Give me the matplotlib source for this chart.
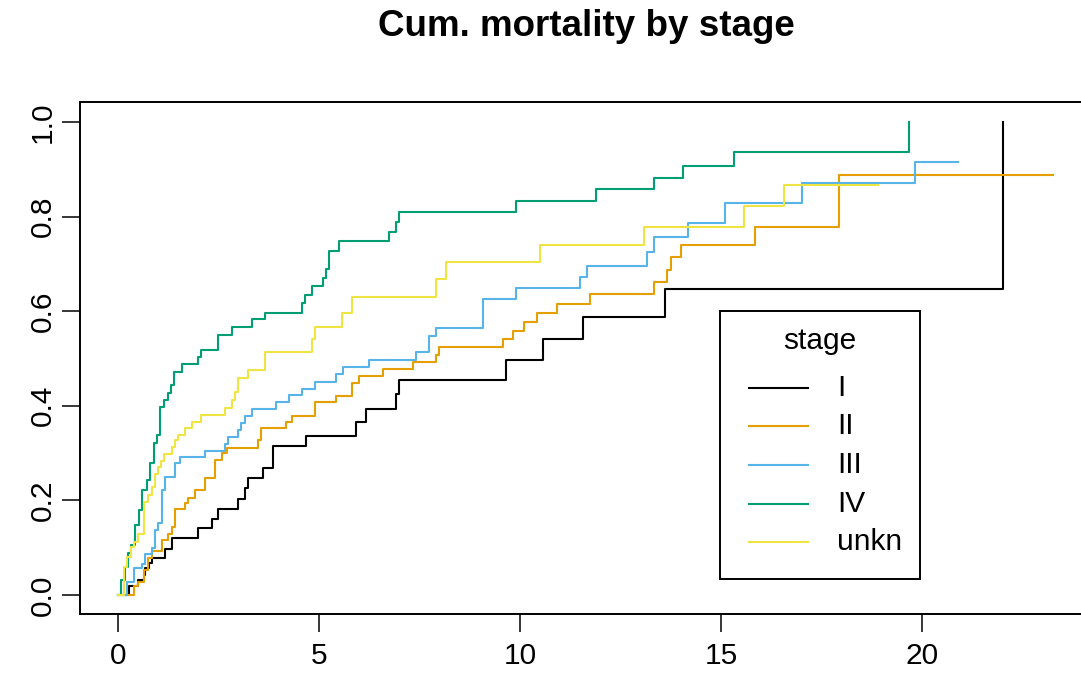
import matplotlib.pyplot as plt
from matplotlib.patches import Rectangle
from matplotlib.lines import Line2D

plt.rcParams["font.family"] = ["Liberation Sans", "DejaVu Sans"]

# 分期与配色
stages = ["I", "II", "III", "IV", "unkn"]
colors = ["#000000", "#E69F00", "#56B4E9", "#009E73", "#F0E442"]

# 各分期累计死亡率阶梯（跳跃时间, 跳跃后的累计值）
t_I = [0.25, 0.49, 0.63, 0.67, 0.75, 0.83, 1.16, 1.33, 1.99, 2.32, 2.47, 2.98,
       3.15, 3.23, 3.59, 3.84, 4.66, 5.91, 6.16, 6.91, 6.99, 9.64, 10.56, 11.57,
       13.59, 22.0]
cif_I = [0.019, 0.032, 0.042, 0.056, 0.067, 0.078, 0.097, 0.12, 0.141, 0.161,
         0.181, 0.203, 0.226, 0.247, 0.269, 0.314, 0.336, 0.366, 0.394, 0.425,
         0.455, 0.497, 0.542, 0.588, 0.647, 1.0]

t_II = [0.39, 0.49, 0.64, 0.73, 0.83, 1.07, 1.24, 1.32, 1.41, 1.65, 1.74, 1.90,
        2.15, 2.40, 2.57, 2.71, 3.47, 3.55, 4.16, 4.32, 4.90, 5.41, 5.82, 5.99,
        6.58, 7.33, 7.90, 7.97, 9.57, 9.82, 10.08, 10.41, 10.91, 11.74, 13.32,
        13.65, 13.74, 13.99, 15.83, 17.92]
cif_II = [0.018, 0.027, 0.053, 0.078, 0.092, 0.116, 0.129, 0.144, 0.181, 0.194,
          0.206, 0.222, 0.247, 0.285, 0.300, 0.311, 0.327, 0.352, 0.366, 0.379,
          0.407, 0.421, 0.449, 0.463, 0.478, 0.493, 0.508, 0.525, 0.542, 0.558,
          0.577, 0.596, 0.616, 0.636, 0.662, 0.687, 0.715, 0.740, 0.777, 0.889]

t_III = [0.20, 0.39, 0.58, 0.66, 0.83, 0.91, 0.99, 1.07, 1.15, 1.41, 1.53, 2.15,
         2.65, 2.73, 2.98, 3.06, 3.15, 3.31, 3.91, 4.24, 4.57, 4.90, 5.41, 5.58,
         6.24, 7.40, 7.73, 7.90, 9.07, 9.89, 11.49, 11.65, 13.16, 13.33, 14.16,
         15.09, 17.00, 19.82]
cif_III = [0.027, 0.056, 0.066, 0.087, 0.099, 0.137, 0.153, 0.222, 0.250, 0.278,
           0.292, 0.305, 0.319, 0.335, 0.349, 0.364, 0.378, 0.393, 0.408, 0.422,
           0.436, 0.451, 0.467, 0.482, 0.496, 0.513, 0.548, 0.565, 0.625, 0.649,
           0.672, 0.695, 0.726, 0.756, 0.786, 0.828, 0.872, 0.915]

t_IV = [0.07, 0.16, 0.24, 0.30, 0.40, 0.51, 0.58, 0.71, 0.79, 0.88, 0.96, 1.04,
        1.14, 1.22, 1.31, 1.38, 1.57, 1.99, 2.05, 2.48, 2.82, 3.33, 3.65, 4.56,
        4.65, 4.81, 5.08, 5.16, 5.24, 5.49, 6.74, 6.90, 6.99, 9.90, 11.89,
        13.33, 14.05, 15.31, 19.66]
cif_IV = [0.032, 0.060, 0.088, 0.106, 0.148, 0.180, 0.222, 0.243, 0.278, 0.321,
          0.338, 0.398, 0.412, 0.428, 0.444, 0.472, 0.488, 0.504, 0.519, 0.550,
          0.566, 0.583, 0.597, 0.617, 0.634, 0.653, 0.671, 0.689, 0.728, 0.748,
          0.768, 0.789, 0.810, 0.834, 0.858, 0.882, 0.906, 0.937, 1.0]

t_unkn = [0.14, 0.22, 0.30, 0.39, 0.48, 0.64, 0.73, 0.83, 0.91, 0.99, 1.06,
          1.14, 1.32, 1.41, 1.49, 1.65, 1.82, 2.05, 2.65, 2.82, 2.90, 2.98, 3.23,
          3.64, 4.82, 4.90, 5.57, 5.82, 7.90, 8.15, 10.49, 13.07, 15.57, 16.56]
cif_unkn = [0.060, 0.081, 0.102, 0.113, 0.129, 0.197, 0.211, 0.229, 0.256, 0.271,
            0.284, 0.298, 0.312, 0.328, 0.338, 0.352, 0.366, 0.380, 0.395, 0.412,
            0.429, 0.458, 0.476, 0.514, 0.541, 0.567, 0.597, 0.631, 0.668, 0.705,
            0.741, 0.779, 0.822, 0.867]

# 各组随访的最长时间
t_end = [22.0, 23.26, 20.9, 19.66, 18.9]

times = [t_I, t_II, t_III, t_IV, t_unkn]
cifs = [cif_I, cif_II, cif_III, cif_IV, cif_unkn]

W, H = 1081, 690
fig = plt.figure(figsize=(W / 100, H / 100), dpi=100)
# 右边框落在图外（与原图一致）
ax = fig.add_axes([80 / W, 1 - 614 / H, 1003 / W, 512 / H])

for t, c, te, col in zip(times, cifs, t_end, colors):
    x = [0] + t
    y = [0] + c
    if te > x[-1]:
        x.append(te)
        y.append(y[-1])
    ax.step(x, y, where="post", color=col, linewidth=1.5)

ax.set_xlim(-0.958, 24.0)
ax.set_ylim(-0.0402, 1.0423)
ax.set_xticks([0, 5, 10, 15, 20])
ax.set_yticks([0, 0.2, 0.4, 0.6, 0.8, 1.0])
ax.set_yticklabels(["0.0", "0.2", "0.4", "0.6", "0.8", "1.0"],
                   rotation=90, va="center")
ax.tick_params(direction="out", length=13, width=1.1, labelsize=21.5,
               colors="black")
ax.tick_params(axis="x", pad=7)
ax.tick_params(axis="y", pad=4)
for sp in ax.spines.values():
    sp.set_linewidth(1.4)

# 标题
fig.text(586 / W, 1 - 26 / H, "Cum. mortality by stage", ha="center",
         va="center", fontsize=26.5, fontweight="bold")


# 图例（按像素位置手动绘制）
def fpos(px, py):
    return px / W, 1 - py / H


x0, y0 = fpos(720, 579)
x1, y1 = fpos(920, 311)
fig.patches.append(Rectangle((x0, y0), x1 - x0, y1 - y0, transform=fig.transFigure,
                             facecolor="white", edgecolor="black", linewidth=1.4,
                             zorder=5))
tx, ty = fpos(820, 341)
fig.text(tx, ty, "stage", ha="center", va="center", fontsize=21.5, zorder=6)
row_y = [388, 426.5, 465, 503.5, 542]
for name, col, ry in zip(stages, colors, row_y):
    lx0, ly = fpos(749, ry)
    lx1, _ = fpos(808, ry)
    fig.lines.append(Line2D([lx0, lx1], [ly, ly], transform=fig.transFigure,
                            color=col, linewidth=1.5, zorder=6))
    lab_x, lab_y = fpos(837, ry)
    fig.text(lab_x, lab_y, name, ha="left", va="center", fontsize=21.5, zorder=6)

fig.savefig("out.png", dpi=100)
